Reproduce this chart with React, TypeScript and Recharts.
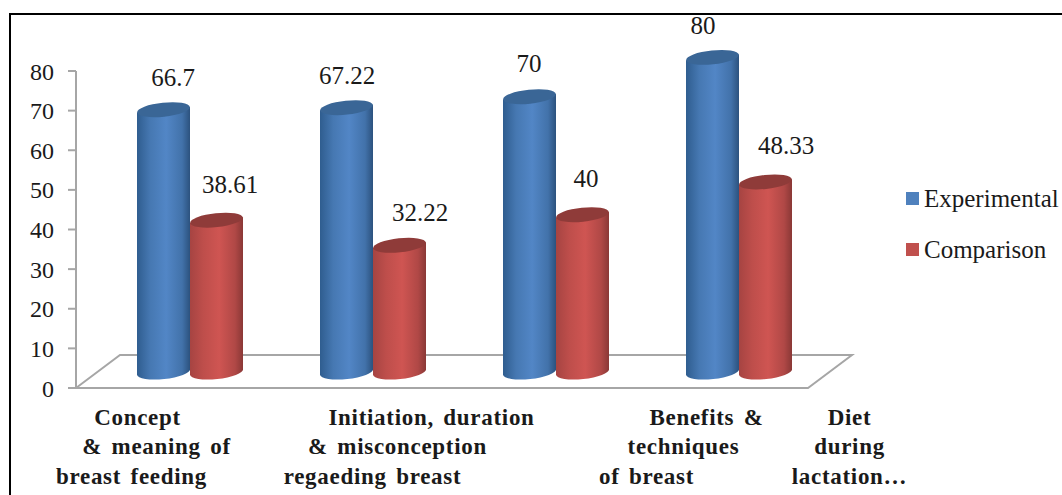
import React from "react";
import { BarChart, Bar, XAxis, YAxis, ReferenceArea, LabelList, Legend } from "recharts";

const categories = ["Concept & meaning of breast feeding", "Initiation, duration & misconception regaeding breast", "Benefits & techniques of breast", "Diet during lactation…"];
const categoryLines = [
  ["Concept", "& meaning of", "breast feeding"],
  ["Initiation, duration", "& misconception", "regaeding breast"],
  ["Benefits &", "techniques", "of breast"],
  ["Diet", "during", "lactation…"],
];
const experimental = [66.7, 67.22, 70, 80];
const comparison = [38.61, 32.22, 40, 48.33];
const yTicks = [0, 10, 20, 30, 40, 50, 60, 70, 80];

const rows = categories.map((name, i) => ({ name, i, experimental: experimental[i], comparison: comparison[i] }));

// Hand placement in the source picture, in px relative to the band centre
const lineNudge = [
  [-30, -11, -36],
  [81, 47, 22],
  [173, 150, 113],
  [133, 133, 133],
];
// Hand placement of data labels relative to the top of each cylinder
const expLabelNudge = [[9, -32], [0, -32], [-1, -33], [-10, -31]];
const cmpLabelNudge = [[13, -35], [20, -32], [3, -36], [20, -36]];

const SERIF = "'Liberation Serif', serif";
const DEPTH_X = 22.5;
const DEPTH_Y = -16;
const DEPTH_SCALE = 0.9925;

function Cylinder(props: any) {
  const { x, y, width, height, grad, topColor } = props;
  const rx = width / 2;
  const cx = x + DEPTH_X + rx - 0.5;
  const ry = 7;
  const rot = -6;
  const cyBottom = y + height + DEPTH_Y;
  const cyTop = cyBottom - height * DEPTH_SCALE;
  const dy = 2.8;
  const l = cx - rx;
  const r = cx + rx;
  const d = `M${l},${cyTop + dy} L${l},${cyBottom + dy} A${rx},${ry} ${rot} 0 0 ${r},${cyBottom - dy} L${r},${cyTop - dy} Z`;
  return (
    <g>
      <path d={d} fill={`url(#${grad})`} />
      <ellipse cx={cx} cy={cyTop} rx={rx} ry={ry} transform={`rotate(${rot} ${cx} ${cyTop})`} fill={topColor} />
    </g>
  );
}

function Floor(props: any) {
  const { x, y, width, height } = props;
  const dx = 44;
  const pts = `${x},${y + height} ${x + dx},${y} ${x + width + dx},${y} ${x + width},${y + height}`;
  return <polygon points={pts} fill="#fff" stroke="#A6A6A6" strokeWidth={2} />;
}

function CategoryTick(props: any) {
  const { x, y, index } = props;
  const lines = categoryLines[index] || [];
  const ys = [29, 58, 88];
  return (
    <g>
      {lines.map((t, k) => (
        <text key={k} x={x + lineNudge[index][k]} y={y + ys[k]} textAnchor="middle" fontFamily={SERIF} fontWeight={700} fontSize={23} letterSpacing={0.7} fill="#1a1a1a" style={{ wordSpacing: 3 }}>
          {t}
        </text>
      ))}
    </g>
  );
}

function makeLabel(nudge: number[][]) {
  return function ValueLabel(props: any) {
    const { x, y, height, width, index, value } = props;
    const top = y + height - height * DEPTH_SCALE;
    return (
      <text x={x + width / 2 + DEPTH_X + nudge[index][0]} y={top + DEPTH_Y + nudge[index][1] + 8} textAnchor="middle" fontFamily={SERIF} fontSize={25} fill="#1a1a1a">
        {value}
      </text>
    );
  };
}

function LegendBox(props: any) {
  const payload = props.payload || [];
  return (
    <div style={{ fontFamily: SERIF, fontSize: 25, color: "#1a1a1a" }}>
      {payload.map((p: any, i: number) => (
        <div key={i} style={{ display: "flex", alignItems: "center", height: 51, whiteSpace: "nowrap" }}>
          <span style={{ width: 13, height: 13, background: p.color, marginRight: 5, display: "inline-block" }} />
          {p.value}
        </div>
      ))}
    </div>
  );
}

export default function App() {
  return (
    <div style={{ position: "absolute", left: 0, top: 0, width: 1062, height: 495, overflow: "hidden", background: "#fff" }}>
      <div style={{ position: "absolute", left: 9, top: 13, width: 1060, height: 490, borderLeft: "2px solid #000", borderTop: "2px solid #000" }} />
      <div style={{ position: "absolute", left: 0, top: 0 }}>
        <BarChart width={1062} height={495} data={rows} margin={{ top: 71, right: 98, bottom: 0, left: 0 }} barSize={53} barGap={0} barCategoryGap={0}>
          <defs>
            <linearGradient id="blueBody" x1="0" x2="1" y1="0" y2="0">
              <stop offset="0" stopColor="#2F5D8F" />
              <stop offset="0.25" stopColor="#4678B2" />
              <stop offset="0.55" stopColor="#5286C6" />
              <stop offset="0.85" stopColor="#4272AA" />
              <stop offset="1" stopColor="#2C527E" />
            </linearGradient>
            <linearGradient id="redBody" x1="0" x2="1" y1="0" y2="0">
              <stop offset="0" stopColor="#A64442" />
              <stop offset="0.25" stopColor="#BE4E4B" />
              <stop offset="0.55" stopColor="#CF5552" />
              <stop offset="0.85" stopColor="#B04846" />
              <stop offset="1" stopColor="#8A3836" />
            </linearGradient>
          </defs>
          <XAxis dataKey="name" height={107} interval={0} axisLine={false} tickLine={false} tick={<CategoryTick />} />
          <YAxis
            domain={[0, 80]}
            ticks={yTicks}
            width={76}
            interval={0}
            axisLine={{ stroke: "#A6A6A6", strokeWidth: 2 }}
            tickLine={{ stroke: "#A6A6A6", strokeWidth: 2 }}
            tickSize={8}
            tickMargin={14}
            tick={{ fontFamily: SERIF, fontSize: 24, fill: "#1a1a1a" }}
          />
          <ReferenceArea y1={0} y2={8.33} shape={<Floor />} ifOverflow="visible" />
          <Bar dataKey="experimental" name="Experimental" fill="#4F81BD" isAnimationActive={false} shape={(p: any) => <Cylinder {...p} grad="blueBody" topColor="#3A6696" />}>
            <LabelList dataKey="experimental" content={makeLabel(expLabelNudge)} />
          </Bar>
          <Bar dataKey="comparison" name="Comparison" fill="#C0504D" isAnimationActive={false} shape={(p: any) => <Cylinder {...p} grad="redBody" topColor="#8F3B39" />}>
            <LabelList dataKey="comparison" content={makeLabel(cmpLabelNudge)} />
          </Bar>
          <Legend
            layout="vertical"
            align="right"
            verticalAlign="middle"
            width={156}
            itemSorter={null as any}
            content={<LegendBox />}
            wrapperStyle={{ position: "absolute", left: 906, top: 173, width: 156 }}
          />
        </BarChart>
      </div>
    </div>
  );
}
